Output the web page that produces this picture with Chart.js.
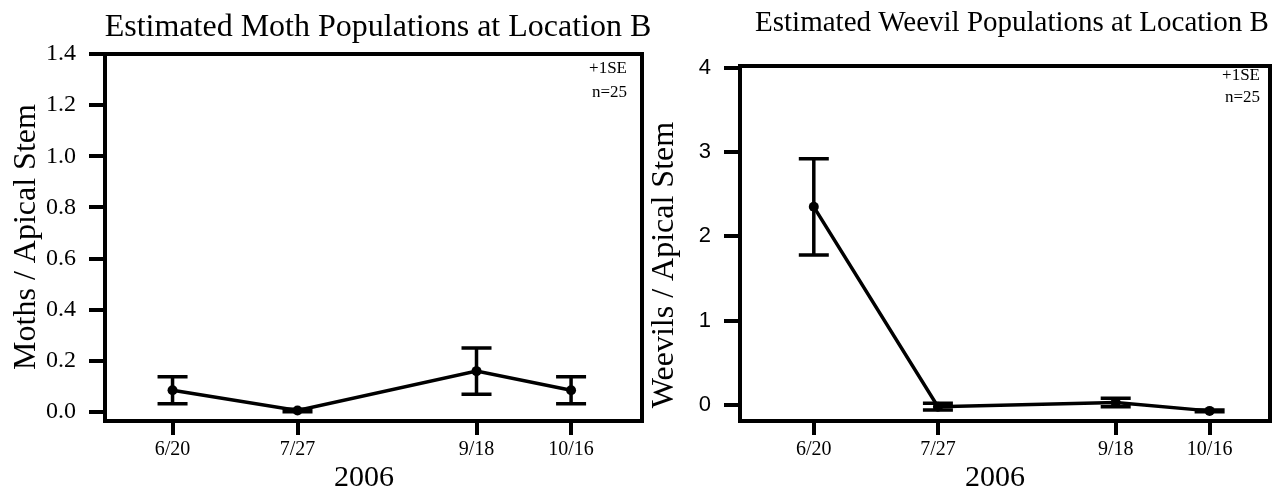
<!DOCTYPE html>
<html>
<head>
<meta charset="utf-8">
<script src="https://cdn.jsdelivr.net/npm/chart.js@4.4.1/dist/chart.umd.min.js"></script>
<style>
  html, body { margin: 0; padding: 0; background: #fff; }
  body { width: 1278px; height: 497px; position: relative; overflow: hidden; }
  canvas { position: absolute; top: 0; }
  #moth { left: 0; }
  #weevil { left: 640px; }
</style>
</head>
<body>
<canvas id="moth" width="660" height="497"></canvas>
<canvas id="weevil" width="638" height="497"></canvas>
<script>
// sample dates (2006) and their day of year, used as x values
const DATES = ['6/20', '7/27', '9/18', '10/16'];
const DAY_OF_YEAR = [171, 208, 261, 289];

// moths per apical stem, mean and 1 SE
const MOTH_MEAN = [0.085, 0.006, 0.16, 0.085];
const MOTH_SE = [0.053, 0.005, 0.09, 0.053];
const MOTH_Y_TICKS = [0, 0.2, 0.4, 0.6, 0.8, 1.0, 1.2, 1.4];

// weevils per apical stem, mean and 1 SE
const WEEVIL_MEAN = [2.35, -0.02, 0.03, -0.07];
const WEEVIL_SE = [0.57, 0.04, 0.05, 0.01];
const WEEVIL_Y_TICKS = [0, 1, 2, 3, 4];

const SERIF = "'Liberation Serif', 'Times New Roman', serif";
const SANS = "'Liberation Sans', Arial, sans-serif";

Chart.defaults.color = '#000';
Chart.defaults.animation = false;

// frame, error bars and all the free text
const decorations = {
  id: 'decorations',
  afterDatasetsDraw(chart, args, o) {
    const { ctx, chartArea: a, scales: { x, y } } = chart;
    ctx.save();
    ctx.strokeStyle = '#000';
    ctx.fillStyle = '#000';
    ctx.lineCap = 'butt';

    // error bars (+/- 1 SE)
    ctx.lineWidth = 3.5;
    chart.data.datasets.forEach(ds => {
      ds.data.forEach((p, k) => {
        const px = x.getPixelForValue(p.x);
        const hi = y.getPixelForValue(p.y + ds.se[k]);
        const lo = y.getPixelForValue(p.y - ds.se[k]);
        ctx.beginPath();
        ctx.moveTo(px, hi); ctx.lineTo(px, lo);
        ctx.moveTo(px - 15, hi); ctx.lineTo(px + 15, hi);
        ctx.moveTo(px - 15, lo); ctx.lineTo(px + 15, lo);
        ctx.stroke();
      });
    });

    // box
    ctx.lineWidth = 4;
    ctx.strokeRect(a.left, a.top, a.right - a.left, a.bottom - a.top);

    // titles
    ctx.textAlign = 'center';
    ctx.textBaseline = 'middle';
    ctx.font = o.titleSize + 'px ' + SERIF;
    ctx.fillText(o.title, o.titleX, o.titleY);
    ctx.font = '30px ' + SERIF;
    ctx.fillText('2006', o.xTitleX, 478);
    ctx.save();
    ctx.translate(o.yTitleX, o.yTitleY);
    ctx.rotate(-Math.PI / 2);
    ctx.font = '32px ' + SERIF;
    ctx.fillText(o.yTitle, 0, 0);
    ctx.restore();

    // note in the corner
    ctx.textAlign = 'right';
    ctx.font = '17px ' + SERIF;
    ctx.fillText('+1SE', a.right - o.noteInset, o.noteY[0]);
    ctx.fillText('n=25', a.right - o.noteInset, o.noteY[1]);
    ctx.restore();
  }
};

function makeChart(id, means, se, yTicks, yMin, yMax, yFont, yFmt, pad, deco) {
  const points = DAY_OF_YEAR.map((d, k) => ({ x: d, y: means[k] }));
  return new Chart(document.getElementById(id), {
    type: 'line',
    data: {
      datasets: [{
        data: points,
        se: se,
        borderColor: '#000',
        borderWidth: 3.5,
        backgroundColor: '#000',
        pointRadius: 5,
        pointBorderWidth: 0,
        pointBackgroundColor: '#000',
        tension: 0,
        clip: false,
      }]
    },
    options: {
      responsive: false,
      devicePixelRatio: 1,
      layout: { padding: { top: pad.top, right: pad.right, bottom: 0, left: 0 } },
      plugins: {
        legend: { display: false },
        tooltip: { enabled: false },
        decorations: deco,
      },
      scales: {
        x: {
          type: 'linear',
          min: pad.xMin, max: pad.xMax,
          afterBuildTicks: s => { s.ticks = DAY_OF_YEAR.map(v => ({ value: v })); },
          afterFit: s => { s.height = 76; },
          border: { display: false },
          grid: { drawOnChartArea: false, drawTicks: true, tickLength: 14, lineWidth: 4, color: '#000' },
          ticks: {
            autoSkip: false, maxRotation: 0, padding: 3,
            font: { family: SERIF, size: 20 },
            callback: v => DATES[DAY_OF_YEAR.indexOf(v)] ?? '',
          },
        },
        y: {
          min: yMin, max: yMax,
          afterBuildTicks: s => { s.ticks = yTicks.map(v => ({ value: v })); },
          afterFit: s => { s.width = pad.yWidth; },
          border: { display: false },
          grid: { drawOnChartArea: false, drawTicks: true, tickLength: 16, lineWidth: 4, color: '#000' },
          ticks: { padding: 13, font: yFont, callback: yFmt },
        },
      },
    },
    plugins: [decorations],
  });
}

makeChart('moth', MOTH_MEAN, MOTH_SE, MOTH_Y_TICKS, -0.035, 1.4,
  { family: SERIF, size: 24 }, v => v.toFixed(1),
  { top: 54, right: 18, yWidth: 105, xMin: 151, xMax: 310 },
  { title: 'Estimated Moth Populations at Location B', titleSize: 32, titleX: 378, titleY: 28,
    yTitle: 'Moths / Apical Stem', yTitleX: 27, yTitleY: 237, xTitleX: 364,
    noteInset: 15, noteY: [69, 93] });

makeChart('weevil', WEEVIL_MEAN, WEEVIL_SE, WEEVIL_Y_TICKS, -0.19, 4.02,
  { family: SANS, size: 22 }, v => String(v),
  { top: 66, right: 8, yWidth: 100, xMin: 149, xMax: 307 },
  { title: 'Estimated Weevil Populations at Location B', titleSize: 29, titleX: 372, titleY: 23,
    yTitle: 'Weevils / Apical Stem', yTitleX: 25, yTitleY: 265, xTitleX: 355,
    noteInset: 10, noteY: [76, 98] });
</script>
</body>
</html>
